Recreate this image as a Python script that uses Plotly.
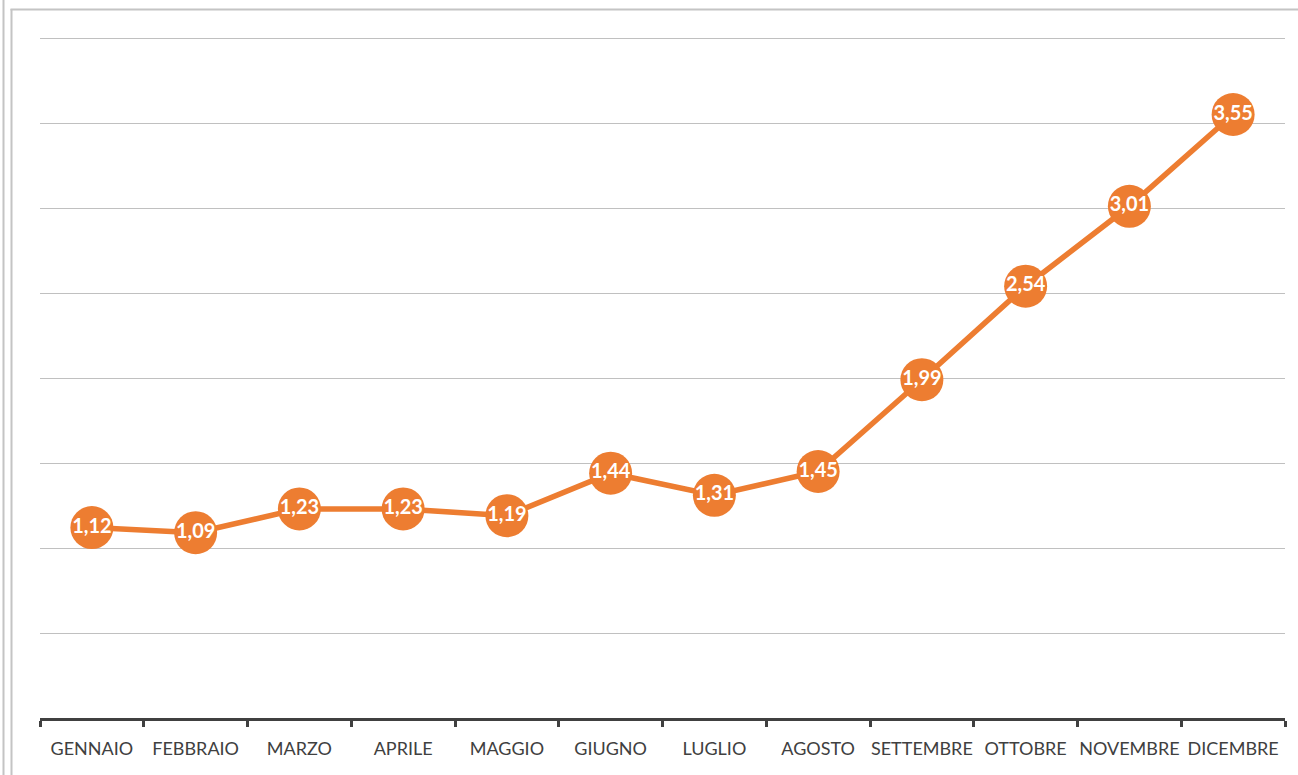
import plotly.graph_objects as go

months = ["GENNAIO", "FEBBRAIO", "MARZO", "APRILE", "MAGGIO", "GIUGNO",
          "LUGLIO", "AGOSTO", "SETTEMBRE", "OTTOBRE", "NOVEMBRE", "DICEMBRE"]
values = [1.12, 1.09, 1.23, 1.23, 1.19, 1.44, 1.31, 1.45, 1.99, 2.54, 3.01, 3.55]
y_ticks = [0, 0.5, 1, 1.5, 2, 2.5, 3, 3.5, 4]

ORANGE = "#ED7D31"
FONT = "Lato"

W, H = 1298, 775
L, R, T, B = 40, 13, 21, 57
pw, ph = W - L - R, H - T - B

def px_x(p):
    return (p - L) / pw

def px_y(p):
    return (H - B - p) / ph

fig = go.Figure()
fig.add_trace(go.Scatter(
    x=months, y=values,
    mode="lines+markers+text",
    line=dict(color=ORANGE, width=5.5),
    marker=dict(size=43, color=ORANGE),
    text=values,
    texttemplate="%{y:.2f}",
    textposition="middle center",
    textfont=dict(family=FONT, size=20, color="white", weight="bold"),
    cliponaxis=False,
    hoverinfo="skip",
))

frame = "#c4c4c4"
shapes = [
    dict(type="line", xref="paper", yref="paper", x0=px_x(3.5), x1=px_x(3.5), y0=px_y(0), y1=px_y(H),
         line=dict(color=frame, width=2)),
    dict(type="line", xref="paper", yref="paper", x0=px_x(11.5), x1=px_x(11.5), y0=px_y(9), y1=px_y(H),
         line=dict(color=frame, width=2)),
    dict(type="line", xref="paper", yref="paper", x0=px_x(10.5), x1=px_x(W), y0=px_y(9.5), y1=px_y(9.5),
         line=dict(color=frame, width=2)),
]

fig.update_layout(
    width=W, height=H,
    margin=dict(l=L, r=R, t=T, b=B, autoexpand=False),
    paper_bgcolor="white", plot_bgcolor="white",
    separators=",.",
    showlegend=False,
    shapes=shapes,
    font=dict(family=FONT, color="#404040"),
    xaxis=dict(
        type="category",
        categoryorder="array", categoryarray=months,
        showgrid=False, zeroline=False,
        showline=True, linecolor="#404040", linewidth=2.5,
        ticks="outside", tickson="boundaries", ticklen=6, tickwidth=2.5, tickcolor="#404040",
        tickfont=dict(family=FONT, size=18, color="#404040"),
        tickangle=0, automargin=False, ticklabelstandoff=13,
        range=[-0.5, 11.5],
    ),
    yaxis=dict(
        range=[0, 4.1],
        tickvals=y_ticks,
        showticklabels=False,
        showgrid=True, gridcolor="#c0c0c0", gridwidth=1,
        zeroline=False, showline=False, ticks="",
        automargin=False,
    ),
)

fig.write_html("out.html", config={"displayModeBar": False},
               post_script="document.body.style.margin='0';document.body.style.overflow='hidden';")
